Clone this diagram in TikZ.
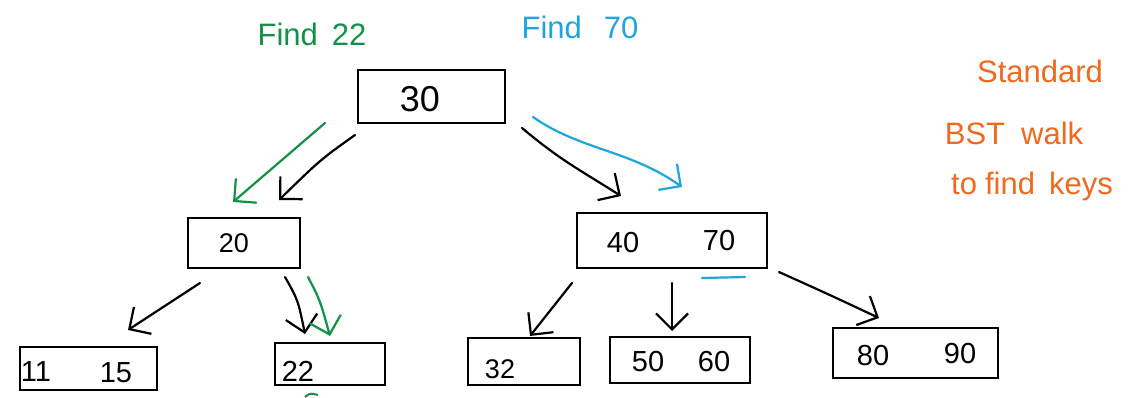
\documentclass[tikz,border=0pt]{standalone}
\usepackage{fontspec}
\setmainfont{Liberation Sans}
\usetikzlibrary{arrows.meta}
\definecolor{inkgreen}{RGB}{20,145,70}
\definecolor{inkblue}{RGB}{30,165,220}
\definecolor{inkorange}{RGB}{240,105,30}
\tikzset{
  keybox/.style={draw=black, line width=2.2pt, inner sep=0pt, rectangle},
  keytxt/.style={inner sep=0pt, font=\fontsize{29}{31}\selectfont},
  ink/.style={line width=2.2pt, line cap=round, -{Straight Barb[length=16pt,width=32pt]}},
  note/.style={inner sep=0pt, font=\fontsize{31}{33}\selectfont},
}
\begin{document}
\begin{tikzpicture}[x=1pt,y=-1pt]
\useasboundingbox[fill=white] (0,0) rectangle (1133,397);

% boxes
\node[keybox, minimum width=147pt, minimum height=53pt] (r)   at (431.5,96.5) {};
\node[keybox, minimum width=112pt, minimum height=50pt] (b20) at (244,243) {};
\node[keybox, minimum width=190pt, minimum height=55pt] (b4070) at (672,240.5) {};
\node[keybox, minimum width=137pt, minimum height=43pt] (b1115) at (88.5,368.5) {};
\node[keybox, minimum width=110pt, minimum height=42pt] (b22) at (330,364) {};
\node[keybox, minimum width=112pt, minimum height=47pt] (b32) at (524,361.5) {};
\node[keybox, minimum width=140pt, minimum height=46pt] (b5060) at (680,360) {};
\node[keybox, minimum width=165pt, minimum height=50pt] (b8090) at (915.5,353) {};

% keys
\node[keytxt, font=\fontsize{36}{38}\selectfont] (t30) at (420,99) {30};
\node[keytxt, font=\fontsize{27}{29}\selectfont] (t20) at (234,243) {20};
\node[keytxt] (t40) at (623,243) {40};
\node[keytxt] (t70) at (719,241) {70};
\node[keytxt] (t11) at (36,372) {11};
\node[keytxt] (t15) at (116,373) {15};
\node[keytxt] (t22) at (298,371) {22};
\node[keytxt, font=\fontsize{27}{29}\selectfont] (t32) at (500,369) {32};
\node[keytxt] (t50) at (648,362) {50};
\node[keytxt] (t60) at (714,362) {60};
\node[keytxt] (t80) at (873,356) {80};
\node[keytxt] (t90) at (960,354) {90};

% titles and notes
\node[note, text=inkgreen] (f22) at (312,34) {Find\hspace{14pt}22};
\node[note, text=inkblue] (f70) at (580,27) {Find\hspace{22pt}70};
\node[note, text=inkorange] (n1) at (1040,71) {Standard};
\node[note, text=inkorange] (n2) at (1014,133) {BST\hspace{16pt}walk};
\node[note, text=inkorange] (n3) at (1032,186) {to\hspace{8pt}find\hspace{14pt}keys};

% connector endpoints
\coordinate (a1s) at (355,135);  \coordinate (a1e) at (279,200);
\coordinate (g1s) at (325,123);  \coordinate (g1e) at (233,202);
\coordinate (a2s) at (522,128);  \coordinate (a2e) at (621,196);
\coordinate (u1s) at (533,117);  \coordinate (u1e) at (682,187);
\coordinate (a3s) at (200,283);  \coordinate (a3e) at (128,330);
\coordinate (a4s) at (285,277);  \coordinate (a4e) at (305,334);
\coordinate (g2s) at (308,277);  \coordinate (g2e) at (330,336);
\coordinate (a5s) at (572,283);  \coordinate (a5e) at (530,336);
\coordinate (a6s) at (672,283);  \coordinate (a6e) at (672,331);
\coordinate (a7s) at (779,272);  \coordinate (a7e) at (879,318);
\coordinate (ul1) at (702,278);  \coordinate (ul2) at (745,277);

% black walk arrows
\draw[ink] (a1s) .. controls (320,160) .. (a1e);
\draw[ink] (a2s) .. controls (560,160) and (580,170) .. (a2e);
\draw[ink] (a3s) -- (a3e);
\draw[ink] (a4s) .. controls (298,300) .. (a4e);
\draw[ink] (a5s) -- (a5e);
\draw[ink] (a6s) -- (a6e);
\draw[ink] (a7s) .. controls (830,295) .. (a7e);

% coloured search paths
\draw[ink, draw=inkgreen] (g1s) -- (g1e);
\draw[ink, draw=inkgreen] (g2s) .. controls (320,300) .. (g2e);
\draw[ink, draw=inkblue] (u1s) .. controls (580,150) and (630,150) .. (u1e);
\draw[inkblue, line width=2.2pt, line cap=round] (ul1) -- (ul2);
\draw[inkgreen, line width=2pt] (305,397) .. controls (310,393) .. (318,395);
\end{tikzpicture}
\end{document}
